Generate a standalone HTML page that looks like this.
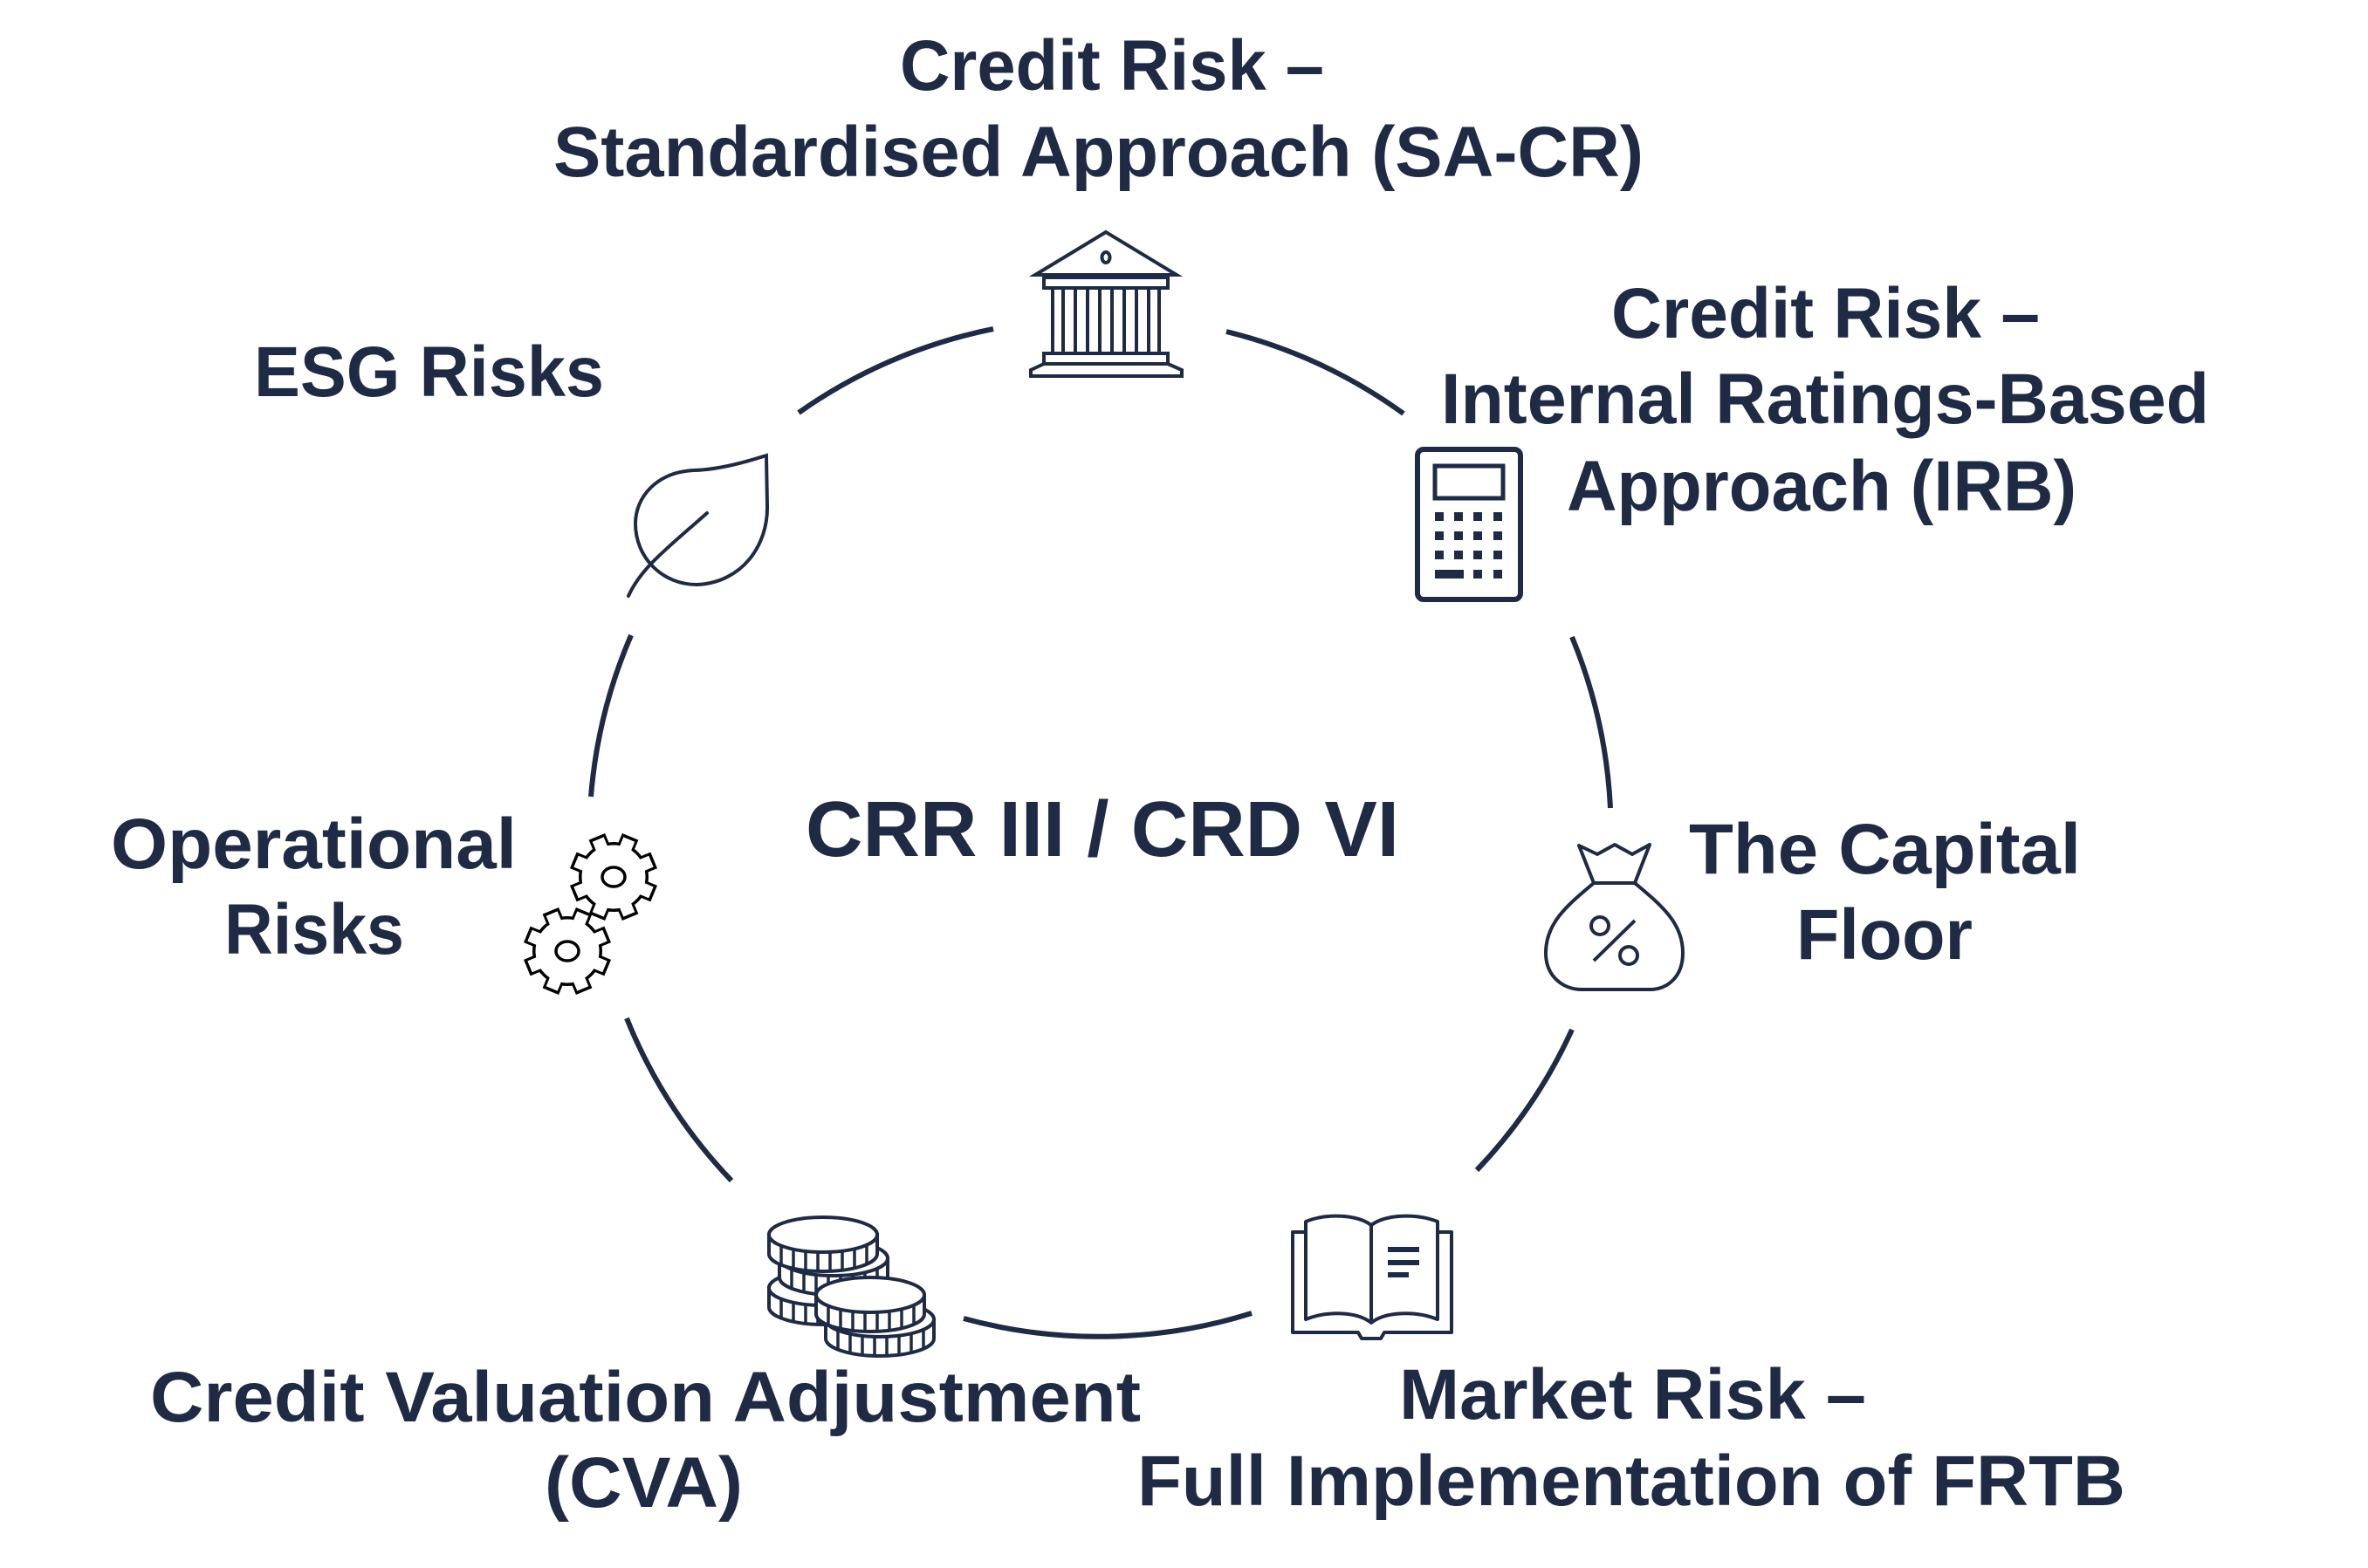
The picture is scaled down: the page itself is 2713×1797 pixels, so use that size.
<!DOCTYPE html>
<html><head><meta charset="utf-8"><style>
html,body{margin:0;padding:0;background:#fff;}
svg{display:block;}
text{font-family:"Liberation Sans",Arial,sans-serif;font-weight:bold;fill:#1f2a44;}
</style></head><body>
<svg width="2713" height="1797" viewBox="0 0 2713 1797" xmlns="http://www.w3.org/2000/svg">
<rect width="2713" height="1797" fill="#fff"/>
<!-- circle segments -->
<g fill="none" stroke="#1f2a44" stroke-width="6">
<path d="M915,473 A586,586 0 0 1 1138,377"/>
<path d="M1405,380 A586,586 0 0 1 1608,474"/>
<path d="M1801,730 A586,586 0 0 1 1845,926"/>
<path d="M1801,1180 A586,586 0 0 1 1692,1341"/>
<path d="M1434,1505 A586,586 0 0 1 1104,1511"/>
<path d="M838,1353 A586,586 0 0 1 718,1167"/>
<path d="M677,913 A586,586 0 0 1 723,728"/>
</g>

<!-- bank -->
<g fill="none" stroke="#1f2a44" stroke-width="4">
<path d="M1267,266 L1348,315 L1186,315 Z"/>
<ellipse cx="1267" cy="295" rx="4.5" ry="6"/>
<rect x="1196" y="318" width="142" height="12"/>
<rect x="1206" y="330" width="122" height="75"/>
<line x1="1218" y1="330" x2="1218" y2="405"/>
<line x1="1232" y1="330" x2="1232" y2="405"/>
<line x1="1246" y1="330" x2="1246" y2="405"/>
<line x1="1260" y1="330" x2="1260" y2="405"/>
<line x1="1274" y1="330" x2="1274" y2="405"/>
<line x1="1288" y1="330" x2="1288" y2="405"/>
<line x1="1302" y1="330" x2="1302" y2="405"/>
<line x1="1316" y1="330" x2="1316" y2="405"/>
<rect x="1196" y="405" width="142" height="12"/>
<path d="M1196,417 L1181,424 L1181,431 L1354,431 L1354,424 L1338,417"/>
</g>

<!-- calculator -->
<g>
<rect x="1624" y="515" width="118" height="172" rx="7" fill="none" stroke="#1f2a44" stroke-width="6"/>
<rect x="1644" y="534" width="78" height="37" fill="none" stroke="#1f2a44" stroke-width="5"/>
<g fill="#1f2a44">
<rect x="1644" y="587" width="10" height="10"/><rect x="1666" y="587" width="10" height="10"/><rect x="1688" y="587" width="10" height="10"/><rect x="1711" y="587" width="10" height="10"/>
<rect x="1644" y="609" width="10" height="10"/><rect x="1666" y="609" width="10" height="10"/><rect x="1688" y="609" width="10" height="10"/><rect x="1711" y="609" width="10" height="10"/>
<rect x="1644" y="631" width="10" height="10"/><rect x="1666" y="631" width="10" height="10"/><rect x="1688" y="631" width="10" height="10"/><rect x="1711" y="631" width="10" height="10"/>
<rect x="1644" y="653" width="33" height="10"/><rect x="1688" y="653" width="10" height="10"/><rect x="1711" y="653" width="10" height="10"/>
</g>
</g>

<!-- money bag -->
<g fill="none" stroke="#1f2a44" stroke-width="4" stroke-linejoin="round">
<path d="M1809,969 L1830,979 L1850,968 L1870,979 L1890,968 L1873,1012 L1826,1012 Z"/>
<path d="M1826,1012 C1795,1038 1771,1058 1771,1092 C1771,1120 1792,1134 1812,1134 L1890,1134 C1910,1134 1928,1120 1928,1092 C1928,1058 1904,1038 1873,1012"/>
<circle cx="1833" cy="1061" r="10"/>
<circle cx="1866" cy="1095" r="10"/>
<line x1="1826" y1="1101" x2="1873" y2="1055"/>
</g>

<!-- leaf -->
<g fill="none" stroke="#1f2a44" stroke-width="4" stroke-linecap="round">
<path d="M878,522 C868,525 830,538 795,539 C752,541 728,570 728,600 C728,640 760,670 798,670 C850,668 880,625 879,580 Z"/>
<path d="M720,683 C735,650 765,628 810,588"/>
</g>

<!-- gears -->
<defs>
<g id="gO"><circle r="40"/><g><rect x="-10" y="-50" width="20" height="100"/><rect x="-10" y="-50" width="20" height="100" transform="rotate(45)"/><rect x="-10" y="-50" width="20" height="100" transform="rotate(90)"/><rect x="-10" y="-50" width="20" height="100" transform="rotate(135)"/></g></g>
<g id="gI"><circle r="36.5"/><g><rect x="-7" y="-46.5" width="14" height="93"/><rect x="-7" y="-46.5" width="14" height="93" transform="rotate(45)"/><rect x="-7" y="-46.5" width="14" height="93" transform="rotate(90)"/><rect x="-7" y="-46.5" width="14" height="93" transform="rotate(135)"/></g></g>
</defs>
<g transform="translate(703,1005) rotate(22.5)"><use href="#gO" fill="#000"/><use href="#gI" fill="#fff"/></g>
<ellipse cx="703" cy="1005" rx="13" ry="11" fill="none" stroke="#000" stroke-width="3.5"/>
<g transform="translate(650,1090) rotate(22.5)"><use href="#gO" fill="#000"/><use href="#gI" fill="#fff"/></g>
<ellipse cx="650" cy="1090" rx="13" ry="11" fill="none" stroke="#000" stroke-width="3.5"/>

<!-- coins -->
<defs>
<g id="coin">
<path d="M-62,0 L-62,22 A62,20 0 0 0 62,22 L62,0 Z" fill="#fff" stroke="#1f2a44" stroke-width="4"/>
<g stroke="#1f2a44" stroke-width="3.5">
<line x1="-48" y1="12" x2="-48" y2="36"/><line x1="-34" y1="15" x2="-34" y2="39"/><line x1="-20" y1="18" x2="-20" y2="41"/><line x1="-6" y1="19" x2="-6" y2="42"/><line x1="8" y1="19" x2="8" y2="42"/><line x1="22" y1="18" x2="22" y2="41"/><line x1="36" y1="15" x2="36" y2="39"/><line x1="50" y1="12" x2="50" y2="35"/>
</g>
<ellipse rx="62" ry="20" fill="#fff" stroke="#1f2a44" stroke-width="4"/>
</g>
</defs>
<use href="#coin" x="943" y="1476"/>
<use href="#coin" x="955" y="1442"/>
<use href="#coin" x="943" y="1415"/>
<use href="#coin" x="1008" y="1512"/>
<use href="#coin" x="997" y="1484"/>

<!-- book -->
<g fill="none" stroke="#1f2a44" stroke-width="4" stroke-linejoin="round">
<path d="M1496,1412 L1481,1412 L1481,1527 L1556,1527 L1560,1534 L1582,1534 L1586,1527 L1663,1527 L1663,1412 L1647,1412"/>
<path d="M1496,1400 C1520,1390 1555,1392 1571,1404 C1587,1392 1622,1390 1647,1400 L1647,1512 C1622,1502 1587,1503 1571,1516 C1555,1503 1520,1502 1496,1512 Z"/>
<line x1="1571" y1="1404" x2="1571" y2="1516"/>
</g>
<g fill="#1f2a44">
<rect x="1590" y="1429" width="36" height="6"/>
<rect x="1590" y="1444" width="36" height="6"/>
<rect x="1590" y="1458" width="24" height="6"/>
</g>

<!-- labels -->
<g font-size="82">
<text x="1031" y="103" textLength="486" lengthAdjust="spacingAndGlyphs">Credit Risk –</text>
<text x="634" y="202" textLength="1249" lengthAdjust="spacingAndGlyphs">Standardised Approach (SA-CR)</text>
<text x="291" y="454" textLength="401" lengthAdjust="spacingAndGlyphs">ESG Risks</text>
<text x="1846" y="387" textLength="491" lengthAdjust="spacingAndGlyphs">Credit Risk –</text>
<text x="1651" y="485" textLength="880" lengthAdjust="spacingAndGlyphs">Internal Ratings-Based</text>
<text x="1795" y="585" textLength="584" lengthAdjust="spacingAndGlyphs">Approach (IRB)</text>
<text x="127" y="995" textLength="465" lengthAdjust="spacingAndGlyphs">Operational</text>
<text x="257" y="1093" textLength="206" lengthAdjust="spacingAndGlyphs">Risks</text>
<text x="1935" y="1001" textLength="449" lengthAdjust="spacingAndGlyphs">The Capital</text>
<text x="2058" y="1099" textLength="202" lengthAdjust="spacingAndGlyphs">Floor</text>
<text x="172" y="1629" textLength="1135" lengthAdjust="spacingAndGlyphs">Credit Valuation Adjustment</text>
<text x="624" y="1727" textLength="227" lengthAdjust="spacingAndGlyphs">(CVA)</text>
<text x="1603" y="1626" textLength="535" lengthAdjust="spacingAndGlyphs">Market Risk –</text>
<text x="1303" y="1725" textLength="1132" lengthAdjust="spacingAndGlyphs">Full Implementation of FRTB</text>
</g>
<text x="923" y="981" font-size="90" textLength="680" lengthAdjust="spacingAndGlyphs">CRR III / CRD VI</text>
</svg>
</body></html>
